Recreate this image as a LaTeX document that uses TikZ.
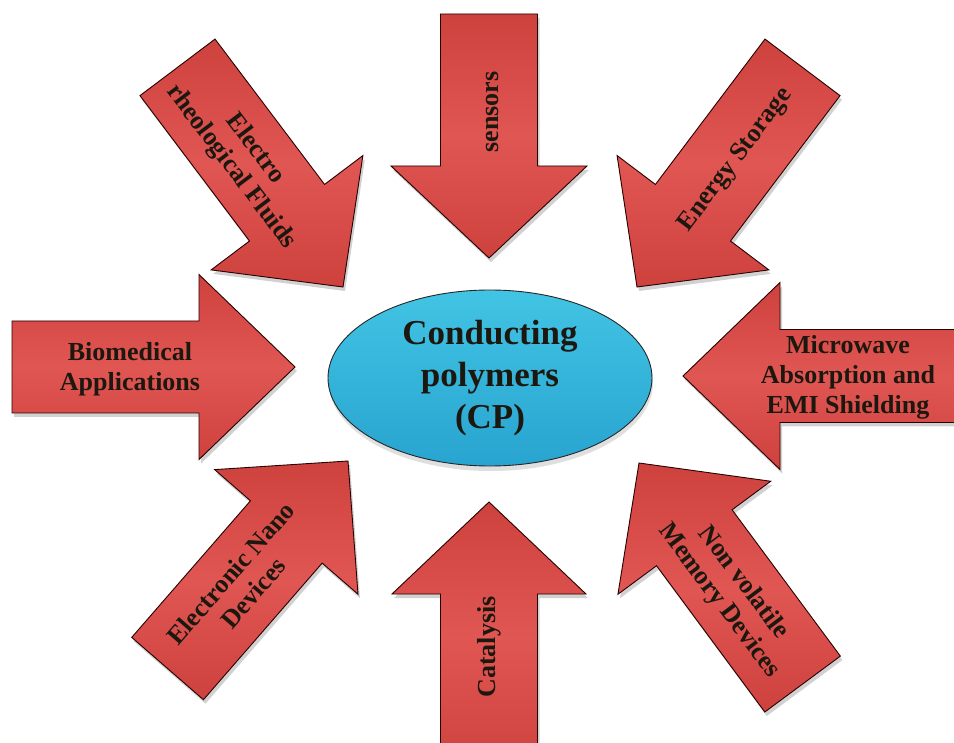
\documentclass[tikz,border=0pt]{standalone}
\usepackage{fontspec}
\setmainfont{Liberation Serif}
\usetikzlibrary{shapes.geometric,shadows}
\definecolor{arrowlight}{RGB}{224,86,82}
\definecolor{arrowmid}{RGB}{206,66,62}
\definecolor{arrowdark}{RGB}{184,52,50}
\definecolor{cplight}{RGB}{66,196,228}
\definecolor{cpdark}{RGB}{40,164,208}
\definecolor{txt}{RGB}{28,24,16}
\tikzset{
  arrowbody/.style={draw=black!85!red, line width=0.9pt, line join=miter,
    top color=arrowmid, bottom color=arrowmid, middle color=arrowlight},
  arrowshadow/.style={fill=black, opacity=0.18},
  lab/.style={font=\bfseries\fontsize{26}{30}\selectfont, text=txt, align=center, inner sep=0pt},
  cpnode/.style={ellipse, draw=black!85, line width=0.9pt, top color=cplight, bottom color=cpdark,
    minimum width=324pt, minimum height=176pt, inner sep=0pt,
    font=\bfseries\fontsize{35}{42}\selectfont, text=txt, align=center,
    drop shadow={opacity=0.25, shadow xshift=1pt, shadow yshift=-5pt}}
}
% tip x, tip y (pixels from top), angle, length, shaft half width, head half width, head length
\newcommand{\fatarrow}[7]{%
  \begin{scope}[shift={(#1+2,-#2-4)}, rotate=#3]
    \fill[arrowshadow] (0,0) -- (-#7,#6) -- (-#7,#5) -- (-#4,#5) -- (-#4,-#5) -- (-#7,-#5) -- (-#7,-#6) -- cycle;
  \end{scope}
  \begin{scope}[shift={(#1,-#2)}, rotate=#3]
    \path[arrowbody] (0,0) -- (-#7,#6) -- (-#7,#5) -- (-#4,#5) -- (-#4,-#5) -- (-#7,-#5) -- (-#7,-#6) -- cycle;
  \end{scope}}
\begin{document}
\begin{tikzpicture}[x=1pt,y=1pt]
\useasboundingbox (0,0) rectangle (954,-743);
\clip (0,0) rectangle (954,-743);
\fill[white] (0,0) rectangle (954,-743);
% arrows
\fatarrow{489}{258}{-90}{244}{48.5}{98}{92}
\fatarrow{489}{502}{90}{270}{48.5}{97}{92}
\fatarrow{295}{367}{0}{283}{46}{92.5}{96}
\fatarrow{683}{376}{180}{300}{46.5}{93.5}{97}
\fatarrow{637}{287}{233}{275}{47}{95}{93}
\fatarrow{343}{287}{-53}{275}{47}{95}{93}
\fatarrow{639}{463}{126.5}{275}{47}{95}{93}
\fatarrow{348}{461}{49}{275}{47.5}{95}{94}
% labels
\node[lab, rotate=90] (sensors) at (492,-112) {sensors};
\node[lab, rotate=90] (catalysis) at (489,-647) {Catalysis};
\node[lab, rotate=53] (energy) at (736,-160) {Energy Storage};
\node[lab, rotate=-53] (erf) at (243,-158) {Electro\\rheological Fluids};
\node[lab] (bio) at (130,-369) {Biomedical\\Applications};
\node[lab] (mw) at (848,-377) {Microwave\\Absorption and\\EMI Shielding};
\node[lab, rotate=49] (end) at (242,-583) {Electronic Nano\\Devices};
\node[lab, rotate=-53] (nvm) at (731,-592) {Non volatile\\Memory Devices};
% centre
\node[cpnode] (cp) at (490,-378) {Conducting\\polymers\\(CP)};
\end{tikzpicture}
\end{document}
